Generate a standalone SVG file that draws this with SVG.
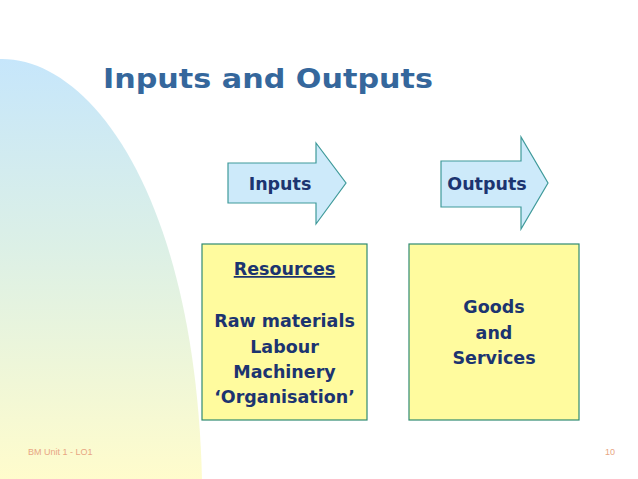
<svg xmlns="http://www.w3.org/2000/svg" width="638" height="479" viewBox="0 0 638 479">
<defs>
<linearGradient id="bg" x1="0" y1="59" x2="0" y2="479" gradientUnits="userSpaceOnUse">
<stop offset="0" stop-color="#c6e6fb"/>
<stop offset="0.45" stop-color="#dcf0e6"/>
<stop offset="1" stop-color="#fffccc"/>
</linearGradient>
<style>
.t{font-family:"DejaVu Sans","Open Sans",sans-serif;font-weight:bold;fill:#1c3470;text-anchor:middle}
.arrow{fill:#cdeafa;stroke:#3f9a9a;stroke-width:1.2}
.box{fill:#fffb9e;stroke:#2f8a72;stroke-width:1.2}
.foot{font-family:"Liberation Sans",Arial,sans-serif;font-size:9px;fill:#e8a683}
</style>
</defs>
<rect width="638" height="479" fill="#ffffff"/>
<path d="M0,59 C90,57 195,195 202,479 L0,479 Z" fill="url(#bg)"/>
<text x="103" y="88" style="font-family:'DejaVu Sans','Open Sans',sans-serif;font-weight:bold;font-size:27px;fill:#35679c" textLength="330" lengthAdjust="spacingAndGlyphs">Inputs and Outputs</text>
<g id="inputs-arrow">
<path class="arrow" d="M228,163 L316,163 L316,143 L346,183 L316,224 L316,203 L228,203 Z"/>
<text class="t" x="280" y="190" font-size="17.5">Inputs</text>
</g>
<g id="outputs-arrow">
<path class="arrow" d="M441,161 L521,161 L521,137 L548,183 L521,229 L521,207 L441,207 Z"/>
<text class="t" x="487" y="190" font-size="17.5">Outputs</text>
</g>
<g id="resources-box">
<rect class="box" x="202" y="244" width="165" height="176"/>
<text class="t" x="284.5" y="275" font-size="17.5" text-decoration="underline">Resources</text>
<text class="t" x="284.5" y="327" font-size="17.5">Raw materials</text>
<text class="t" x="284.5" y="353" font-size="17.5">Labour</text>
<text class="t" x="284.5" y="378" font-size="17.5">Machinery</text>
<text class="t" x="284.5" y="403" font-size="17.5">‘Organisation’</text>
</g>
<g id="goods-box">
<rect class="box" x="409" y="244" width="170" height="176"/>
<text class="t" x="494" y="313" font-size="17.5">Goods</text>
<text class="t" x="494" y="339" font-size="17.5">and</text>
<text class="t" x="494" y="364" font-size="17.5">Services</text>
</g>
<g id="connectors"></g>
<text class="foot" x="28" y="455">BM Unit 1 - LO1</text>
<text class="foot" x="615" y="455" text-anchor="end">10</text>
</svg>
